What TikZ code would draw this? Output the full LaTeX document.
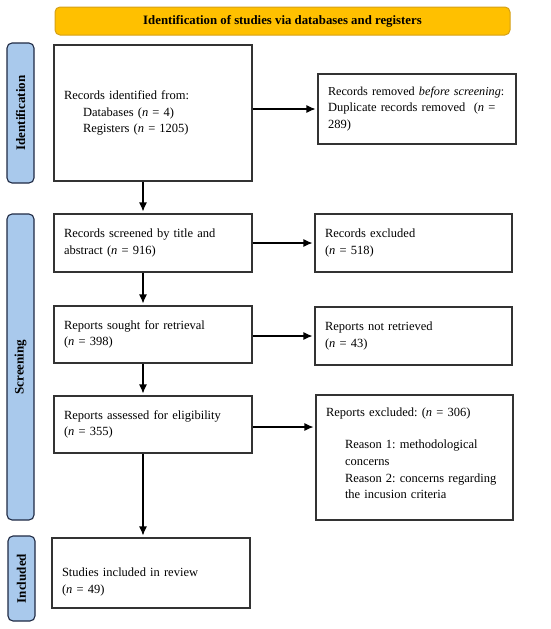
\documentclass[tikz,border=0pt]{standalone}
\usepackage{fontspec}
\setmainfont{Liberation Serif}
\usetikzlibrary{arrows.meta}
\definecolor{gold}{HTML}{FFC000}
\definecolor{goldline}{HTML}{D4A017}
\definecolor{sideblue}{HTML}{A9C9EC}
\definecolor{sideline}{HTML}{1F2A44}
\definecolor{boxline}{HTML}{333333}
\frenchspacing
\begin{document}
\begin{tikzpicture}[x=1pt,y=-1pt,
  every node/.style={font=\fontsize{12.5}{16.7}\selectfont},
  flowbox/.style={draw=boxline,line width=1.1pt,rectangle,inner xsep=10pt,inner ysep=4pt,align=left},
  sidebar/.style={draw=sideline,fill=sideblue,line width=1.1pt,rounded corners=5pt,minimum width=27pt,rotate=90,font=\fontsize{13}{14}\selectfont\bfseries},
  arr/.style={-{Latex[length=9pt,width=8pt]},line width=1.1pt,shorten >=2pt}]
\useasboundingbox (0,0) rectangle (550,629);
% header
\node[draw=goldline,fill=gold,line width=1pt,rounded corners=5pt,minimum width=455pt,minimum height=28pt,font=\fontsize{12.8}{14}\selectfont\bfseries] (head) at (282.5,21) {Identification of studies via databases and registers};
% side bars
\node[sidebar,minimum width=140pt,minimum height=27pt] (sid) at (20.5,113) {Identification};
\node[sidebar,minimum width=306pt,minimum height=27pt] (sscr) at (20.5,367) {Screening};
\node[sidebar,minimum width=85pt,minimum height=27pt] (sinc) at (21.5,578.5) {Included};
% left column
\node[flowbox,minimum width=198pt,minimum height=136pt,text width=178pt] (ident) at (153,113) {Records identified from:\\\hspace*{19pt}Databases (\textit{n} = 4)\\\hspace*{19pt}Registers (\textit{n} = 1205)};
\node[flowbox,minimum width=198pt,minimum height=58pt,text width=178pt] (scr) at (153,243) {Records screened by title and\\abstract (\textit{n} = 916)};
\node[flowbox,minimum width=198pt,minimum height=57pt,text width=178pt] (sought) at (153,334.5) {Reports sought for retrieval\\(\textit{n} = 398)};
\node[flowbox,minimum width=198pt,minimum height=57pt,text width=178pt] (assess) at (153,424.5) {Reports assessed for eligibility\\(\textit{n} = 355)};
\node[flowbox,minimum width=198pt,minimum height=70pt,text width=178pt] (incl) at (151,573) {\\[10pt]Studies included in review\\(\textit{n} = 49)};
% right column
\node[flowbox,minimum width=198pt,minimum height=70pt,text width=178pt,inner xsep=10pt] (removed) at (417,109) {\mbox{\fontsize{12.2}{16.7}\selectfont Records removed \textit{before screening}:}\\\mbox{Duplicate records removed\ \ (\textit{n} =}\\289)};
\node[flowbox,minimum width=197pt,minimum height=58pt,text width=177pt] (excl) at (413.5,243) {Records excluded\\(\textit{n} = 518)};
\node[flowbox,minimum width=197pt,minimum height=58pt,text width=177pt] (notret) at (413.5,336) {Reports not retrieved\\(\textit{n} = 43)};
\node[flowbox,minimum width=197pt,minimum height=125pt,text width=177pt] (rexcl) at (414.5,457.5) {Reports excluded: (\textit{n} = 306)\\[16pt]\hspace*{19pt}Reason 1: methodological\\\hspace*{19pt}concerns\\\hspace*{19pt}Reason 2: concerns regarding\\\hspace*{19pt}the incusion criteria\\[-8pt]\mbox{}};
% arrows
\draw[arr] (ident.east |- removed.west) -- (removed.west);
\draw[arr] (ident.south -| 143,0) -- (scr.north -| 143,0);
\draw[arr] (scr.east) -- (excl.west);
\draw[arr] (scr.south -| 143,0) -- (sought.north -| 143,0);
\draw[arr] (sought.east |- notret.west) -- (notret.west);
\draw[arr] (sought.south -| 143,0) -- (assess.north -| 143,0);
\draw[arr] (assess.east |- 0,427) -- (rexcl.west |- 0,427);
\draw[arr] (assess.south -| 143,0) -- (incl.north -| 143,0);
\end{tikzpicture}
\end{document}
